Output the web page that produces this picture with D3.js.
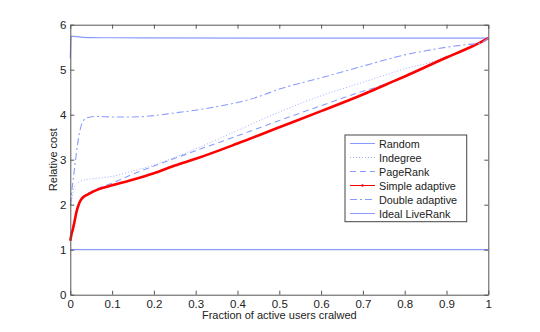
<!DOCTYPE html>
<html>
<head>
<meta charset="utf-8">
<script src="https://cdn.jsdelivr.net/npm/d3@7"></script>
<style>
  body { margin: 0; background: #fff; }
  text { font-family: "Liberation Sans", Arial, sans-serif; }
</style>
</head>
<body>
<script>
// values, [fraction crawled, relative cost]
const random = [[0, 5.25], [0.002, 5.74], [0.01, 5.74], [0.03, 5.72], [0.1, 5.71], [0.5, 5.7], [1, 5.7]]
const indegree = [[0.002, 2.0], [0.01, 2.4], [0.02, 2.5], [0.035, 2.55], [0.067, 2.59], [0.1, 2.63], [0.15, 2.75],
  [0.2, 2.88], [0.25, 3.05], [0.3, 3.24], [0.4, 3.65], [0.5, 4.06], [0.6, 4.42], [0.7, 4.72], [0.75, 4.87],
  [0.8, 5.02], [0.86, 5.16], [0.9, 5.3], [0.95, 5.48], [0.98, 5.6], [1, 5.7]]
const pagerank = [[0, 1.25], [0.01, 1.65], [0.02, 2.02], [0.03, 2.17], [0.05, 2.29], [0.1, 2.48], [0.15, 2.68],
  [0.2, 2.86], [0.25, 3.03], [0.3, 3.2], [0.4, 3.53], [0.5, 3.87], [0.6, 4.2], [0.7, 4.52], [0.73, 4.6],
  [0.8, 4.86], [0.9, 5.28], [0.95, 5.47], [0.98, 5.6], [1, 5.7]]
const simpleAdaptive = [[0, 1.2], [0.003, 1.35], [0.006, 1.45], [0.01, 1.62], [0.015, 1.85], [0.02, 2.0], [0.025, 2.1],
  [0.03, 2.16], [0.04, 2.22], [0.05, 2.27], [0.067, 2.34], [0.1, 2.43], [0.147, 2.55], [0.2, 2.7], [0.25, 2.87],
  [0.3, 3.02], [0.4, 3.36], [0.5, 3.72], [0.6, 4.08], [0.7, 4.45], [0.75, 4.65], [0.8, 4.85], [0.9, 5.27],
  [0.95, 5.47], [0.98, 5.6], [1, 5.7]]
const doubleAdaptive = [[0, 2.0], [0.01, 2.8], [0.02, 3.5], [0.03, 3.85], [0.04, 3.93], [0.06, 3.96], [0.1, 3.95],
  [0.15, 3.95], [0.2, 3.98], [0.25, 4.04], [0.3, 4.1], [0.35, 4.18], [0.4, 4.27], [0.45, 4.4], [0.5, 4.57],
  [0.55, 4.7], [0.6, 4.82], [0.65, 4.95], [0.7, 5.08], [0.75, 5.21], [0.8, 5.33], [0.85, 5.42], [0.9, 5.5],
  [0.95, 5.56], [0.98, 5.59], [1, 5.7]]
const ideal = [[0, 1], [1, 1]]

const names = ['Random', 'Indegree', 'PageRank', 'Simple adaptive', 'Double adaptive', 'Ideal LiveRank']
const xTicks = [0, 0.1, 0.2, 0.3, 0.4, 0.5, 0.6, 0.7, 0.8, 0.9, 1]
const yTicks = [0, 1, 2, 3, 4, 5, 6]

const width = 540
const height = 332
const padLeft = 70.3, padRight = 488.3, padTop = 24.7, padBottom = 294.7
const blue = '#8a9bff'

const series = [
  { data: random, color: blue, w: 1.2, dash: null },
  { data: indegree, color: '#a3b0ff', w: 1, dash: '1,2' },
  { data: pagerank, color: blue, w: 1.1, dash: '6,4' },
  { data: simpleAdaptive, color: '#ff0000', w: 2.6, dash: null, dot: true },
  { data: doubleAdaptive, color: blue, w: 1.1, dash: '7,3,2,3' },
  { data: ideal, color: blue, w: 1.2, dash: null }
]

const x = d3.scaleLinear().domain([0, 1]).range([padLeft, padRight])
const y = d3.scaleLinear().domain([0, 6]).range([padBottom, padTop])

const svg = d3.select('body')
  .append('svg')
  .attr('width', width)
  .attr('height', height)

const line = d3.line().x(d => x(d[0])).y(d => y(d[1])).curve(d3.curveMonotoneX)

// lines
series.forEach(s => {
  svg.append('path')
    .datum(s.data)
    .attr('d', line)
    .attr('fill', 'none')
    .attr('stroke', s.color)
    .attr('stroke-width', s.w)
    .attr('stroke-dasharray', s.dash)
    .attr('stroke-linejoin', 'round')
})

// axes, ticks pointing inwards on all four sides
const fmt = d => d === 0 ? '0' : d === 1 ? '1' : d3.format('.1f')(d)
const axisStyle = g => {
  g.select('.domain').attr('stroke', '#555')
  g.selectAll('.tick line').attr('stroke', '#555')
  g.selectAll('.tick text').attr('fill', '#222').style('font-size', '11.5px')
}

svg.append('g')
  .attr('transform', 'translate(0,' + padBottom + ')')
  .call(d3.axisBottom(x).tickValues(xTicks).tickFormat(fmt).tickSizeInner(-4).tickSizeOuter(0).tickPadding(5))
  .call(axisStyle)

svg.append('g')
  .attr('transform', 'translate(0,' + padTop + ')')
  .call(d3.axisTop(x).tickValues(xTicks).tickFormat('').tickSizeInner(-4).tickSizeOuter(0))
  .call(axisStyle)

svg.append('g')
  .attr('transform', 'translate(' + padLeft + ',0)')
  .call(d3.axisLeft(y).tickValues(yTicks).tickFormat(d3.format('d')).tickSizeInner(-4).tickSizeOuter(0).tickPadding(4))
  .call(axisStyle)

svg.append('g')
  .attr('transform', 'translate(' + padRight + ',0)')
  .call(d3.axisRight(y).tickValues(yTicks).tickFormat('').tickSizeInner(-4).tickSizeOuter(0))
  .call(axisStyle)

// axis titles
svg.append('text')
  .attr('x', (padLeft + padRight) / 2)
  .attr('y', 319)
  .attr('text-anchor', 'middle')
  .attr('font-size', '11px')
  .attr('fill', '#222')
  .text('Fraction of active users cralwed')

svg.append('text')
  .attr('transform', 'translate(56.5,' + (padTop + padBottom) / 2 + ') rotate(-90)')
  .attr('text-anchor', 'middle')
  .attr('font-size', '11px')
  .attr('fill', '#222')
  .text('Relative cost')

// legend
const legend = svg.append('g').attr('transform', 'translate(345,135)')
legend.append('rect')
  .attr('width', 121.7)
  .attr('height', 86.7)
  .attr('fill', '#fff')
  .attr('stroke', '#444')
  .attr('stroke-width', 1)

names.forEach((n, i) => {
  const s = series[i]
  const ly = 8.5 + i * 14
  legend.append('line')
    .attr('x1', 5).attr('x2', 30)
    .attr('y1', ly).attr('y2', ly)
    .attr('stroke', s.color)
    .attr('stroke-width', 1)
    .attr('stroke-dasharray', s.dash)
  if (s.dot) {
    legend.append('circle').attr('cx', 17.5).attr('cy', ly).attr('r', 1.2).attr('fill', s.color)
  }
  legend.append('text')
    .attr('x', 34)
    .attr('y', ly + 4)
    .attr('font-size', '10.8px')
    .attr('fill', '#222')
    .text(n)
})
</script>
</body>
</html>
